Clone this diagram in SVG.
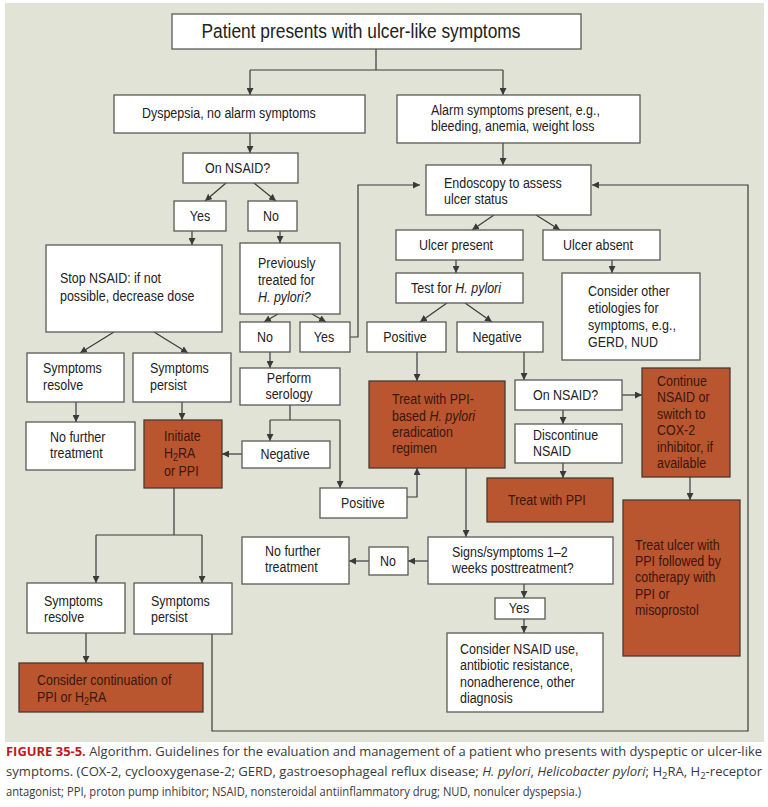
<svg xmlns="http://www.w3.org/2000/svg" width="768" height="807" viewBox="0 0 768 807">
<defs>
<marker id="ah" viewBox="0 0 8 8" refX="8" refY="4" markerWidth="7" markerHeight="7" markerUnits="userSpaceOnUse" orient="auto">
<path d="M0,0 L8,4 L0,8 z" fill="#3a3a3a"/>
</marker>
<style>
.bx{fill:#ffffff;stroke:#5a5a55;stroke-width:1.3}
.or{fill:#b9552f;stroke:#4a3a30;stroke-width:1.3}
.t,.to,.ttl{font-family:"Liberation Sans",Arial,sans-serif;transform-box:fill-box;transform-origin:0 50%;transform:scaleX(0.89)}
.t{font-size:14px;fill:#222}
.to{font-size:14px;fill:#3a160c}
.ttl{font-size:19.5px;fill:#222}
.m{transform-origin:50% 50%}
.c{fill:none;stroke:#3a3a3a;stroke-width:1.2}
.ca{fill:none;stroke:#3a3a3a;stroke-width:1.2;marker-end:url(#ah)}
.cap{font-family:"Open Sans","Noto Sans","Liberation Sans",sans-serif;font-size:12.5px;fill:#3a3a3a}
</style>
</defs>
<rect x="0" y="0" width="768" height="807" fill="#ffffff"/>
<rect x="5" y="3" width="759" height="739" fill="#e2e3d7"/>

<g id="connectors">
<path class="c" d="M376,49 V70 M250,70 H503"/>
<path class="ca" d="M250,70 V95"/>
<path class="ca" d="M503,70 V95"/>
<path class="ca" d="M250,133 V153"/>
<path class="ca" d="M503,143 V165"/>
<path class="ca" d="M226,183 L205,201"/>
<path class="ca" d="M254,183 L276,201"/>
<path class="ca" d="M192,231 V245"/>
<path class="ca" d="M280,231 V243"/>
<path class="ca" d="M278,314 L264,322"/>
<path class="ca" d="M312,314 L326,322"/>
<path class="ca" d="M350,337 H358 V185 H420"/>
<path class="ca" d="M212,633 V731 H748 V185 H592"/>
<path class="ca" d="M494,215 L472,230"/>
<path class="ca" d="M536,215 L560,230"/>
<path class="ca" d="M456,260 V273"/>
<path class="ca" d="M612,260 V273"/>
<path class="ca" d="M447,303 L420,322"/>
<path class="ca" d="M465,303 L492,322"/>
<path class="ca" d="M114,332 L80,353"/>
<path class="ca" d="M154,332 L188,353"/>
<path class="ca" d="M76,402 V422"/>
<path class="ca" d="M182,402 V420"/>
<path class="ca" d="M270,352 V368"/>
<path class="c" d="M290,405 V420 M270,420 H340"/>
<path class="ca" d="M270,420 V441"/>
<path class="ca" d="M340,420 V488"/>
<path class="ca" d="M242,454 H222"/>
<path class="ca" d="M407,497 H417 V468"/>
<path class="ca" d="M417,352 V381"/>
<path class="ca" d="M524,352 V380"/>
<path class="ca" d="M622,395 H642"/>
<path class="ca" d="M563,410 V424"/>
<path class="ca" d="M563,463 V478"/>
<path class="ca" d="M690,477 V500"/>
<path class="ca" d="M466,468 V537"/>
<path class="ca" d="M428,561 H408"/>
<path class="ca" d="M369,561 H349"/>
<path class="ca" d="M524,584 V598"/>
<path class="ca" d="M524,619 V633"/>
<path class="c" d="M174,488 V535 M96,535 H202"/>
<path class="ca" d="M96,535 V583"/>
<path class="ca" d="M202,535 V583"/>
<path class="ca" d="M86,633 V663"/>
</g>

<g id="n-start"><rect class="bx" x="172" y="14" width="409" height="35"/><text class="ttl m" x="361" y="38" text-anchor="middle">Patient presents with ulcer-like symptoms</text></g>
<g id="n-dyspepsia"><rect class="bx" x="114" y="95" width="251" height="38"/><text class="t" x="142" y="118">Dyspepsia, no alarm symptoms</text></g>
<g id="n-alarm"><rect class="bx" x="397" y="95" width="243" height="48"/><text class="t" x="431" y="115">Alarm symptoms present, e.g.,</text><text class="t" x="431" y="131">bleeding, anemia, weight loss</text></g>
<g id="n-onnsaid1"><rect class="bx" x="183" y="153" width="115" height="30"/><text class="t" x="205" y="173">On NSAID?</text></g>
<g id="n-yes1"><rect class="bx" x="174" y="201" width="52" height="30"/><text class="t m" x="200" y="221" text-anchor="middle">Yes</text></g>
<g id="n-no1"><rect class="bx" x="248" y="201" width="49" height="30"/><text class="t m" x="271" y="221" text-anchor="middle">No</text></g>
<g id="n-stop"><rect class="bx" x="46" y="245" width="176" height="87"/><text class="t" x="60" y="283">Stop NSAID: if not</text><text class="t" x="60" y="301">possible, decrease dose</text></g>
<g id="n-prev"><rect class="bx" x="240" y="243" width="100" height="71"/><text class="t" x="258" y="268">Previously</text><text class="t" x="258" y="285">treated for</text><text class="t" x="258" y="302" font-style="italic">H. pylori?</text></g>
<g id="n-no2"><rect class="bx" x="240" y="322" width="50" height="30"/><text class="t m" x="265" y="342" text-anchor="middle">No</text></g>
<g id="n-yes2"><rect class="bx" x="300" y="322" width="50" height="30"/><text class="t m" x="324" y="342" text-anchor="middle">Yes</text></g>
<g id="n-endo"><rect class="bx" x="426" y="165" width="165" height="50"/><text class="t" x="444" y="188">Endoscopy to assess</text><text class="t" x="444" y="204">ulcer status</text></g>
<g id="n-present"><rect class="bx" x="396" y="230" width="127" height="30"/><text class="t m" x="456" y="250" text-anchor="middle">Ulcer present</text></g>
<g id="n-absent"><rect class="bx" x="543" y="230" width="117" height="30"/><text class="t m" x="598" y="250" text-anchor="middle">Ulcer absent</text></g>
<g id="n-test"><rect class="bx" x="396" y="273" width="127" height="30"/><text class="t" x="411" y="293">Test for <tspan font-style="italic">H. pylori</tspan></text></g>
<g id="n-other"><rect class="bx" x="562" y="273" width="138" height="87"/><text class="t" x="588" y="296">Consider other</text><text class="t" x="588" y="313">etiologies for</text><text class="t" x="588" y="330">symptoms, e.g.,</text><text class="t" x="588" y="347">GERD, NUD</text></g>
<g id="n-pos1"><rect class="bx" x="367" y="322" width="79" height="30"/><text class="t m" x="405" y="342" text-anchor="middle">Positive</text></g>
<g id="n-neg1"><rect class="bx" x="457" y="322" width="86" height="30"/><text class="t m" x="497" y="342" text-anchor="middle">Negative</text></g>
<g id="n-resolve1"><rect class="bx" x="27" y="353" width="97" height="49"/><text class="t" x="43" y="373">Symptoms</text><text class="t" x="43" y="390">resolve</text></g>
<g id="n-persist1"><rect class="bx" x="133" y="353" width="98" height="49"/><text class="t" x="150" y="373">Symptoms</text><text class="t" x="150" y="390">persist</text></g>
<g id="n-serology"><rect class="bx" x="240" y="368" width="100" height="37"/><text class="t m" x="289" y="383" text-anchor="middle">Perform</text><text class="t m" x="289" y="399" text-anchor="middle">serology</text></g>
<g id="n-nofurther1"><rect class="bx" x="26" y="422" width="109" height="48"/><text class="t" x="50" y="442">No further</text><text class="t" x="50" y="458">treatment</text></g>
<g id="n-initiate"><rect class="or" x="144" y="420" width="78" height="68"/><text class="to" x="164" y="441">Initiate</text><text class="to" x="164" y="458">H<tspan font-size="10" dy="3">2</tspan><tspan dy="-3">RA</tspan></text><text class="to" x="164" y="476">or PPI</text></g>
<g id="n-neg2"><rect class="bx" x="242" y="441" width="88" height="27"/><text class="t m" x="285" y="459" text-anchor="middle">Negative</text></g>
<g id="n-pos2"><rect class="bx" x="320" y="488" width="87" height="30"/><text class="t" x="341" y="508">Positive</text></g>
<g id="n-eradicate"><rect class="or" x="369" y="381" width="136" height="87"/><text class="to" x="392" y="404">Treat with PPI-</text><text class="to" x="392" y="421">based <tspan font-style="italic">H. pylori</tspan></text><text class="to" x="392" y="437">eradication</text><text class="to" x="392" y="453">regimen</text></g>
<g id="n-onnsaid2"><rect class="bx" x="515" y="380" width="107" height="30"/><text class="t" x="533" y="400">On NSAID?</text></g>
<g id="n-continue"><rect class="or" x="642" y="368" width="88" height="109"/><text class="to" x="657" y="386">Continue</text><text class="to" x="657" y="402">NSAID or</text><text class="to" x="657" y="419">switch to</text><text class="to" x="657" y="435">COX-2</text><text class="to" x="657" y="452">inhibitor, if</text><text class="to" x="657" y="468">available</text></g>
<g id="n-discontinue"><rect class="bx" x="515" y="424" width="107" height="39"/><text class="t" x="533" y="440">Discontinue</text><text class="t" x="533" y="456">NSAID</text></g>
<g id="n-treatppi"><rect class="or" x="487" y="478" width="126" height="44"/><text class="to" x="508" y="505">Treat with PPI</text></g>
<g id="n-treatulcer"><rect class="or" x="623" y="500" width="117" height="156"/><text class="to" x="635" y="550">Treat ulcer with</text><text class="to" x="635" y="566">PPI followed by</text><text class="to" x="635" y="582">cotherapy with</text><text class="to" x="635" y="599">PPI or</text><text class="to" x="635" y="615">misoprostol</text></g>
<g id="n-signs"><rect class="bx" x="428" y="537" width="185" height="47"/><text class="t" x="452" y="557">Signs/symptoms 1–2</text><text class="t" x="452" y="573">weeks posttreatment?</text></g>
<g id="n-no3"><rect class="bx" x="369" y="547" width="39" height="28"/><text class="t m" x="388" y="566" text-anchor="middle">No</text></g>
<g id="n-nofurther2"><rect class="bx" x="242" y="537" width="107" height="47"/><text class="t" x="265" y="556">No further</text><text class="t" x="265" y="572">treatment</text></g>
<g id="n-yes3"><rect class="bx" x="495" y="598" width="50" height="21"/><text class="t m" x="519" y="613" text-anchor="middle">Yes</text></g>
<g id="n-considernsaid"><rect class="bx" x="447" y="633" width="156" height="79"/><text class="t" x="460" y="654">Consider NSAID use,</text><text class="t" x="460" y="670">antibiotic resistance,</text><text class="t" x="460" y="687">nonadherence, other</text><text class="t" x="460" y="703">diagnosis</text></g>
<g id="n-resolve2"><rect class="bx" x="27" y="583" width="98" height="50"/><text class="t" x="44" y="606">Symptoms</text><text class="t" x="44" y="622">resolve</text></g>
<g id="n-persist2"><rect class="bx" x="134" y="583" width="98" height="51"/><text class="t" x="151" y="606">Symptoms</text><text class="t" x="151" y="622">persist</text></g>
<g id="n-continuation"><rect class="or" x="19" y="663" width="184" height="49"/><text class="to" x="37" y="685">Consider continuation of</text><text class="to" x="37" y="702">PPI or H<tspan font-size="10" dy="3">2</tspan><tspan dy="-3">RA</tspan></text></g>

<g id="caption">
<text class="cap" x="6" y="756" textLength="756" lengthAdjust="spacingAndGlyphs"><tspan font-weight="bold" fill="#c4161c">FIGURE 35-5.</tspan> Algorithm. Guidelines for the evaluation and management of a patient who presents with dyspeptic or ulcer-like</text>
<text class="cap" x="6" y="776" textLength="756" lengthAdjust="spacingAndGlyphs">symptoms. (COX-2, cyclooxygenase-2; GERD, gastroesophageal reflux disease; <tspan font-style="italic">H. pylori</tspan>, <tspan font-style="italic">Helicobacter pylori</tspan>; H<tspan font-size="9" dy="3">2</tspan><tspan dy="-3">RA, H</tspan><tspan font-size="9" dy="3">2</tspan><tspan dy="-3">-receptor</tspan></text>
<text class="cap" x="6" y="796" textLength="575" lengthAdjust="spacingAndGlyphs">antagonist; PPI, proton pump inhibitor; NSAID, nonsteroidal antiinflammatory drug; NUD, nonulcer dyspepsia.)</text>
</g>
</svg>
